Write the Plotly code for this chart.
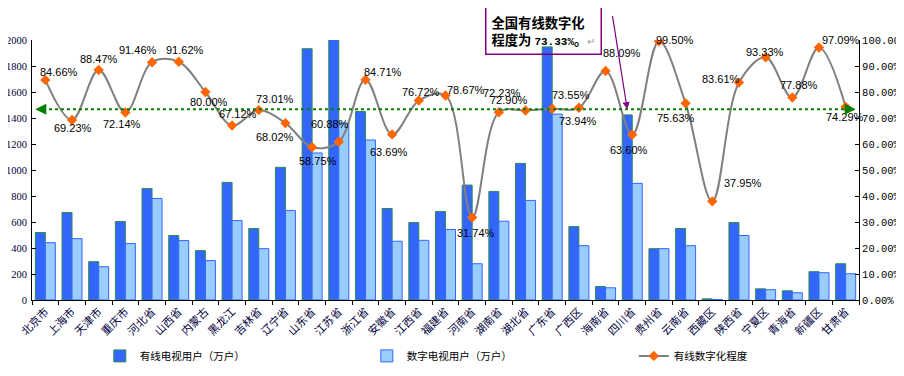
import plotly.graph_objects as go

provinces = ["北京市", "上海市", "天津市", "重庆市", "河北省", "山西省", "内蒙古", "黑龙江",
             "吉林省", "辽宁省", "山东省", "江苏省", "浙江省", "安徽省", "江西省", "福建省",
             "河南省", "湖南省", "湖北省", "广东省", "广西区", "海南省", "四川省", "贵州省",
             "云南省", "西藏区", "陕西省", "宁夏区", "青海省", "新疆区", "甘肃省"]
cable_users = [519, 673, 295, 604, 858, 496, 380, 905, 550, 1021, 1933, 2034, 1450, 704, 596, 681,
               884, 835, 1051, 1947, 565, 104, 1424, 395, 550, 9, 596, 86, 71, 218, 279]
digital_users = [441, 472, 256, 434, 781, 457, 303, 611, 395, 689, 1131, 1362, 1231, 452, 459, 542,
                 279, 606, 766, 1430, 418, 94, 897, 395, 418, 4, 496, 79, 56, 210, 202]
digital_rate = [84.66, 69.23, 88.47, 72.14, 91.46, 91.62, 80.00, 67.12, 73.01, 68.02, 58.75, 60.88,
                84.71, 63.69, 76.72, 78.67, 31.74, 72.23, 72.90, 73.55, 73.94, 88.09, 63.60, 99.50,
                75.63, 37.95, 83.61, 93.33, 77.88, 97.09, 74.29]
national_rate = 73.33

# label offsets (px, dx right / dy down) -- styling only
label_offsets = [(14, -8), (1, 8), (0, -11), (-3, 12), (-14, -12), (6, -12), (4, 10), (6, -11),
                 (16, -11), (-10, 14), (6, 14), (-9, -18), (18, -8), (-3, 18), (2, -9), (20, -5),
                 (4, 16), (3, -19), (-17, -10), (19, -14), (-1, 13), (16, -18), (-3, 15), (16, -1),
                 (-10, 15), (31, -18), (-18, -4), (-1, -5), (7, -13), (22, -8), (-1, 10)]

fig = go.Figure()
fig.add_trace(go.Bar(x=provinces, y=cable_users, name="有线电视用户（万户）",
                     marker=dict(color="#3366FF", line=dict(color="#2E8B57", width=1))))
fig.add_trace(go.Bar(x=provinces, y=digital_users, name="数字电视用户（万户）",
                     marker=dict(color="#99CCFF", line=dict(color="#3366FF", width=1))))
fig.add_trace(go.Scatter(x=provinces, y=digital_rate, name="有线数字化程度", yaxis="y2",
                         mode="lines+markers", line=dict(color="#808080", width=2, shape="spline", smoothing=1),
                         marker=dict(symbol="diamond", color="#FF6600", size=8)))

annotations = []
for p, v, (dx, dy) in zip(provinces, digital_rate, label_offsets):
    annotations.append(dict(x=p, y=v, xref="x", yref="y2", text=f"{v:.2f}%", showarrow=False,
                            xshift=dx, yshift=-dy,
                            font=dict(family="Liberation Sans, Arial", size=11, color="#000000")))

# arrowheads at the ends of national average line
annotations.append(dict(x=0.004, y=national_rate, xref="paper", yref="y2", text="", showarrow=True,
                        ax=10, ay=0, arrowhead=2, arrowsize=1.1, arrowwidth=2, arrowcolor="#008000"))
annotations.append(dict(x=0.996, y=national_rate, xref="paper", yref="y2", text="", showarrow=True,
                        ax=-10, ay=0, arrowhead=2, arrowsize=1.1, arrowwidth=2, arrowcolor="#008000"))

# callout box
callout = ("<b>全国有线数字化<br>程度为 <span style='font-family:Liberation Mono;font-size:11px'>"
           f"{national_rate:.2f}%</span>。</b><span style='color:#999999;font-size:10px'>↵</span>")
annotations.append(dict(x=0.6185, y=1.035, xref="paper", yref="paper", xanchor="center", yanchor="middle",
                        showarrow=False, text=callout,
                        align="left", bordercolor="#800080", borderwidth=1.5, borderpad=5,
                        font=dict(family="Noto Sans CJK SC", size=13.3, color="#000000")))
annotations.append(dict(x="四川省", y=national_rate, xref="x", yref="y2", xshift=-5, text="",
                        showarrow=True, ax=-15, ay=-95, arrowhead=2, arrowsize=1.2, arrowwidth=1.2,
                        arrowcolor="#800080"))

fig.update_layout(
    width=904, height=376,
    margin=dict(l=24, r=53, t=32, b=84, autoexpand=False),
    paper_bgcolor="white", plot_bgcolor="white",
    barmode="group", bargap=0.25, bargroupgap=0,
    showlegend=True,
    legend=dict(orientation="h", x=0.082, y=-0.215, xanchor="left", yanchor="middle",
                entrywidth=222, entrywidthmode="pixels", tracegroupgap=0,
                font=dict(family="Noto Sans CJK SC", size=10.5, color="#000000")),
    xaxis=dict(type="category", range=[-0.5, len(provinces) - 0.5], autorange=False,
               tickangle=-45, showline=True, linecolor="#000000", linewidth=1,
               ticks="outside", ticklen=4, tickcolor="#000000", tickson="boundaries", automargin=False,
               showgrid=False, tickfont=dict(family="Noto Sans CJK SC", size=11, color="#000040")),
    yaxis=dict(range=[0, 2000], dtick=200, showline=True, linecolor="#000000", linewidth=1,
               ticks="inside", ticklen=4, tickcolor="#000000", showgrid=False, zeroline=False,
               ticklabelstandoff=2, automargin=False,
               tickfont=dict(family="Liberation Serif, Times New Roman", size=10.5, color="#000033")),
    yaxis2=dict(range=[0, 100], dtick=10, overlaying="y", side="right", showline=True,
                linecolor="#000000", linewidth=1, ticks="inside", ticklen=4, tickcolor="#000000",
                showgrid=False, zeroline=False, tickformat=".2f", ticksuffix="%", automargin=False,
                tickfont=dict(family="Liberation Mono", size=10.5, color="#000000")),
    shapes=[dict(type="line", xref="paper", x0=0.006, x1=0.994, yref="y2", y0=national_rate,
                 y1=national_rate, line=dict(color="#008000", width=2, dash="dot"))],
    annotations=annotations,
)

fig.write_html("out.html")
